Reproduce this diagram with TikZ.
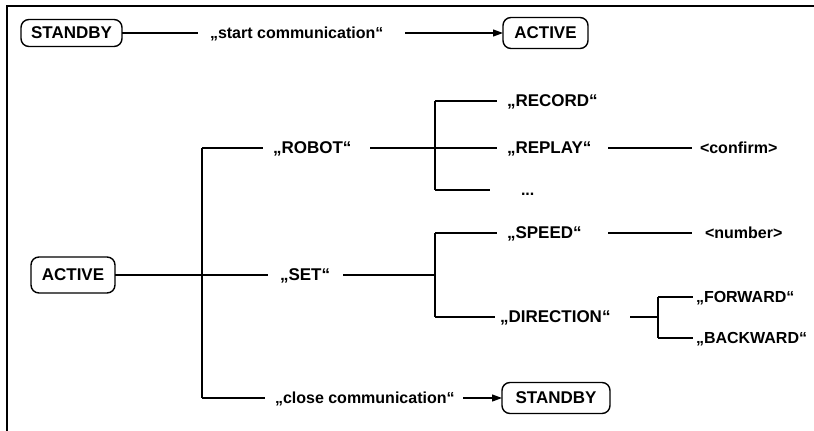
\documentclass[tikz,border=0pt]{standalone}
\usepackage{fontspec}
\setmainfont{Liberation Sans}
\usetikzlibrary{arrows.meta}
\begin{document}
\begin{tikzpicture}[x=1pt,y=-1pt,
  every node/.style={font=\fontsize{16}{19}\selectfont\bfseries, inner sep=0pt, outer sep=0pt},
  state/.style={draw, rounded corners=8pt, line width=1.4pt, align=center, font=\fontsize{17}{20}\selectfont\bfseries},
  lbl/.style={anchor=west, text height=11.5pt, text depth=0pt},
  caps/.style={lbl, font=\fontsize{17}{20}\selectfont\bfseries},
  conn/.style={line width=1.2pt},
  bus/.style={line width=1.4pt},
  arr/.style={conn, -{Triangle[length=10pt,width=7pt]}}]
\useasboundingbox (0,0) rectangle (814,431);
% frame
\draw[line width=2pt] (7,431) -- (7,6) -- (814,6);

% top row
\node[state, minimum width=101pt, minimum height=27pt] (s1) at (71.5,33) {STANDBY};
\node[state, minimum width=85pt, minimum height=31pt] (a1) at (545.5,33) {ACTIVE};
\node[lbl] (t0) at (210,33) {„start communication“};
\coordinate (c1) at (405,33);
\draw[conn] (s1.east) -- ([xshift=-12pt]t0.west);
\draw[arr] (c1) -- (a1.west);

% tree
\node[state, minimum width=84pt, minimum height=36pt] (a2) at (73,275) {ACTIVE};
\node[state, minimum width=108pt, minimum height=31pt] (s2) at (556,398) {STANDBY};

\node[caps] (robot) at (273,148) {„ROBOT“};
\node[caps] (set) at (280,275) {„SET“};
\node[lbl] (close) at (275,398) {„close communication“};

\node[caps] (record) at (507,101) {„RECORD“};
\node[caps] (replay) at (507,148) {„REPLAY“};
\node[lbl] (dots) at (521,190) {...};
\node[lbl] (confirm) at (700,148) {<confirm>};

\node[caps] (speed) at (507,233) {„SPEED“};
\node[lbl] (number) at (705,233) {<number>};
\node[caps] (direction) at (500,317) {„DIRECTION“};
\node[lbl] (forward) at (696,297) {„FORWARD“};
\node[lbl] (backward) at (696,338) {„BACKWARD“};

% main bus
\coordinate (jr) at (202,148);
\coordinate (js) at (202,275);
\coordinate (jc) at (202,398);
\draw[bus] (jr) -- (jc);
\draw[conn] (a2.east) -- (js);
\draw[conn] (jr) -- ([xshift=-10pt]robot.west);
\draw[conn] (js) -- ([xshift=-12pt]set.west);
\draw[conn] (jc) -- ([xshift=-10pt]close.west);

% robot branch
\coordinate (rs) at (370,148);
\coordinate (kr) at (435,148);
\coordinate (krt) at (435,101);
\coordinate (krb) at (435,190);
\draw[conn] (rs) -- (kr);
\draw[bus] (krt) -- (krb);
\draw[conn] (krt) -- ([xshift=-10pt]record.west);
\draw[conn] (kr) -- ([xshift=-10pt]replay.west);
\draw[conn] (krb) -- ([xshift=-31pt]dots.west);
\coordinate (rp) at (608,148);
\draw[conn] (rp) -- ([xshift=-8pt]confirm.west);

% set branch
\coordinate (ss) at (343,275);
\coordinate (ks) at (435,275);
\coordinate (kst) at (435,233);
\coordinate (ksb) at (435,317);
\draw[conn] (ss) -- (ks);
\draw[bus] (kst) -- (ksb);
\draw[conn] (kst) -- ([xshift=-10pt]speed.west);
\draw[conn] (ksb) -- ([xshift=-5pt]direction.west);
\coordinate (sp) at (608,233);
\draw[conn] (sp) -- ([xshift=-13pt]number.west);

% direction branch
\coordinate (dp) at (630,317);
\coordinate (kd) at (658,317);
\coordinate (kdt) at (658,297);
\coordinate (kdb) at (658,338);
\draw[conn] (dp) -- (kd);
\draw[bus] (kdt) -- (kdb);
\draw[conn] (kdt) -- ([xshift=-3pt]forward.west);
\draw[conn] (kdb) -- ([xshift=-3pt]backward.west);

% close
\coordinate (cp) at (463,398);
\draw[arr] (cp) -- (s2.west);
\end{tikzpicture}
\end{document}
